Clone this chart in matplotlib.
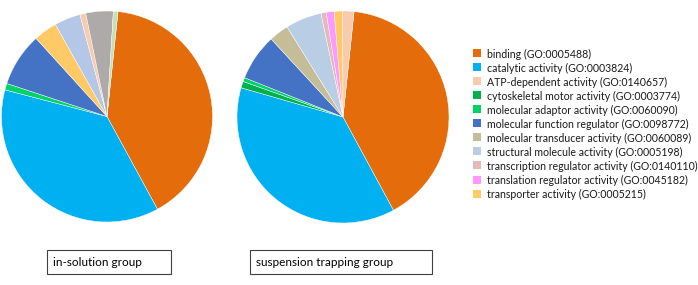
import matplotlib
matplotlib.use("Agg")
import matplotlib.pyplot as plt
from matplotlib.patches import Rectangle

# legend categories and colours
categories = [
    "binding (GO:0005488)",
    "catalytic activity (GO:0003824)",
    "ATP-dependent activity (GO:0140657)",
    "cytoskeletal motor activity (GO:0003774)",
    "molecular adaptor activity (GO:0060090)",
    "molecular function regulator (GO:0098772)",
    "molecular transducer activity (GO:0060089)",
    "structural molecule activity (GO:0005198)",
    "transcription regulator activity (GO:0140110)",
    "translation regulator activity (GO:0045182)",
    "transporter activity (GO:0005215)",
]
legend_colors = ["#e46c0a", "#00b0f0", "#f8cbad", "#00b050", "#00d26a", "#4472c4",
                 "#c4bd97", "#b9cde5", "#e6b9b8", "#ff99ff", "#ffc966"]

# in-solution group (clockwise from the top)
insol_labels = ["binding", "catalytic", "adaptor", "regulator", "transporter",
                "structural", "ATP-dependent", "transducer", "cytoskeletal"]
insol_values = [40.4, 37.0, 1.0, 8.2, 3.6, 4.0, 0.9, 4.2, 0.7]
insol_colors = ["#e46c0a", "#00b0f0", "#00d26a", "#4472c4", "#ffc966",
                "#b4c7e7", "#f8cbad", "#aeaaaa", "#c5e0b4"]

# suspension trapping group
strap_labels = ["binding", "catalytic", "cytoskeletal", "adaptor", "regulator",
                "transducer", "structural", "transcription", "translation",
                "transporter", "ATP-dependent"]
strap_values = [40.4, 37.3, 1.0, 0.6, 7.1, 3.0, 5.5, 0.8, 1.2, 1.3, 1.7]
strap_colors = ["#e46c0a", "#00b0f0", "#00b050", "#00d26a", "#4472c4",
                "#c4bd97", "#b9cde5", "#e6b9b8", "#ff99ff", "#ffc966", "#f8cbad"]

group_names = ["in-solution group", "suspension trapping group"]

W, H = 698, 285
plt.rcParams["font.family"] = ["Lato", "DejaVu Sans"]
fig = plt.figure(figsize=(W / 100, H / 100), dpi=100)


def px_axes(cx, cy, r):
    # axes box in pixel coords (y from top)
    return fig.add_axes([(cx - r) / W, (H - cy - r) / H, 2 * r / W, 2 * r / H])


for (cx, cy, r), vals, cols in [((107, 116.5, 105.5), insol_values, insol_colors),
                                ((343, 117, 106), strap_values, strap_colors)]:
    ax = px_axes(cx, cy, r)
    ax.pie(vals, colors=cols, startangle=84, counterclock=False, radius=1,
           wedgeprops=dict(edgecolor="white", linewidth=0.3))
    ax.set_xlim(-1, 1)
    ax.set_ylim(-1, 1)
    ax.set_aspect("equal")
    ax.axis("off")

# legend, drawn row by row so the spacing matches
row0, step = 53, 14.06
for i, (label, c) in enumerate(zip(categories, legend_colors)):
    y = row0 + i * step
    fig.patches.append(Rectangle((472.7 / W, (H - y - 4) / H), 8 / W, 8 / H,
                                 transform=fig.transFigure, facecolor=c,
                                 edgecolor="none"))
    fig.text(487 / W, (H - y) / H, label, fontsize=7.6, va="center_baseline",
             ha="left", color="#1a1a1a")

# group labels in boxes
for (x0, x1), name in zip([(46.5, 170.5), (250, 431.5)], group_names):
    fig.patches.append(Rectangle((x0 / W, (H - 274) / H), (x1 - x0) / W, 24 / H,
                                 transform=fig.transFigure, facecolor="white",
                                 edgecolor="#404040", linewidth=0.8))
    fig.text((x0 + 6.5) / W, (H - 262.5) / H, name, fontsize=8.5,
             va="center", ha="left", color="#000000")

fig.savefig("out.png", dpi=100)
